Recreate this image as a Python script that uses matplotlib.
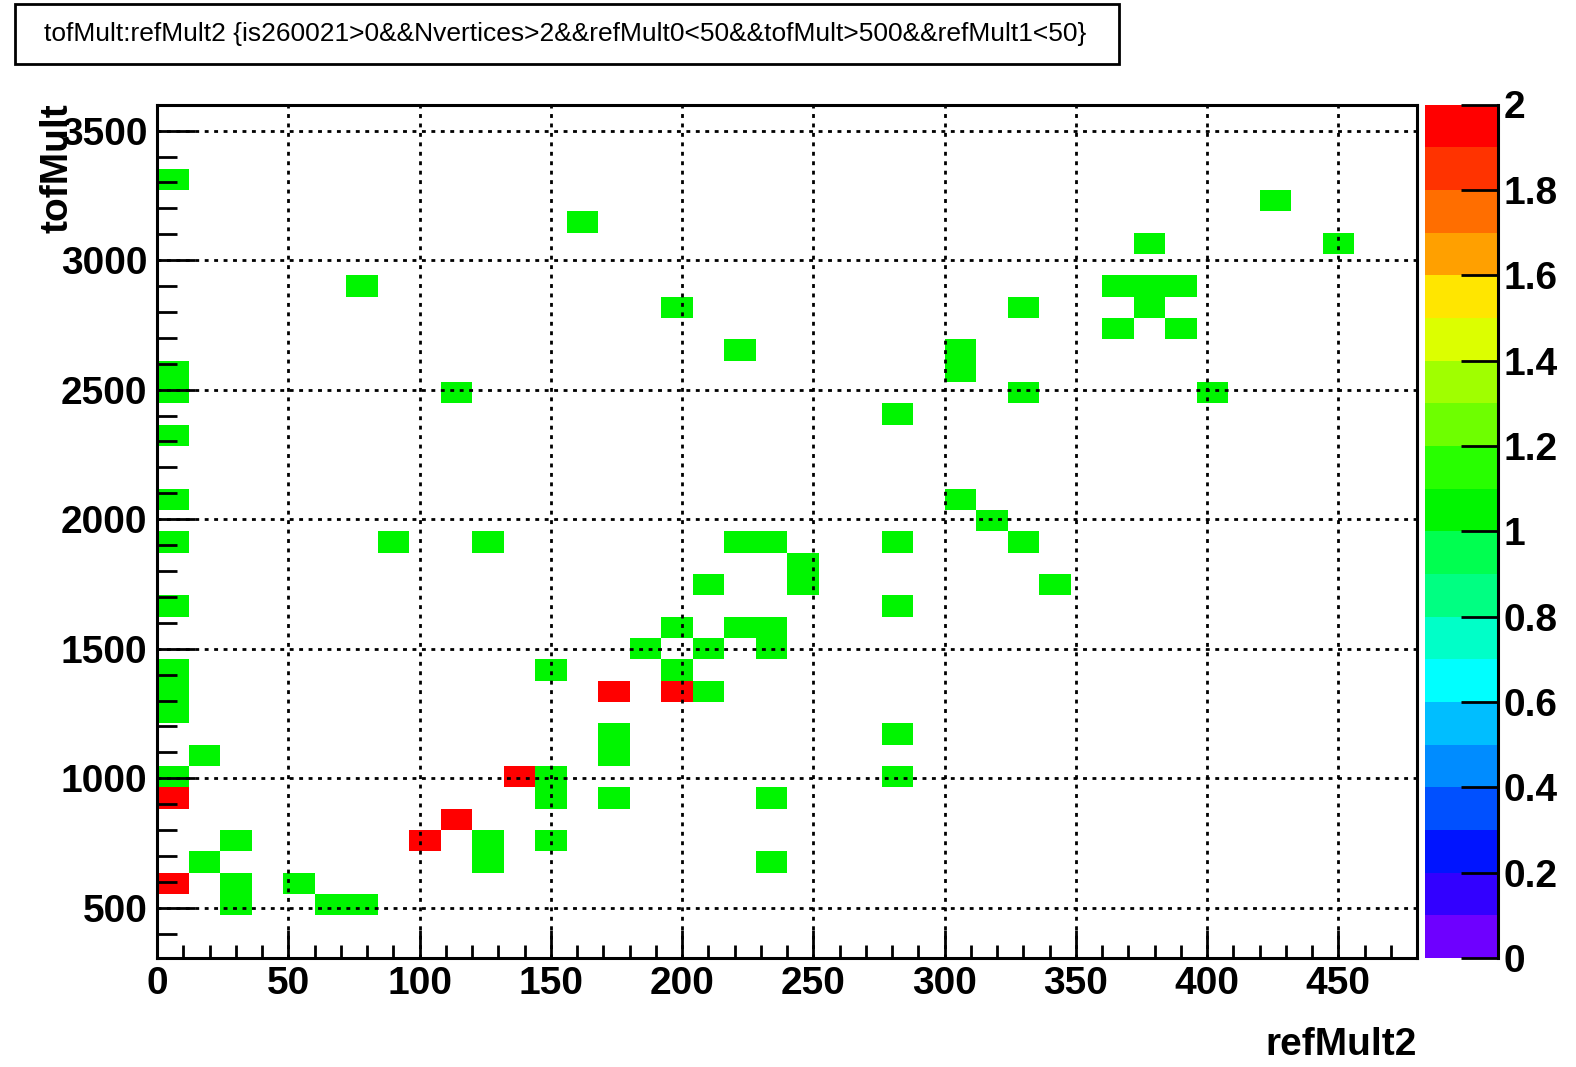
import numpy as np
import matplotlib
matplotlib.use("Agg")
import matplotlib.pyplot as plt
from matplotlib.colors import ListedColormap, Normalize
from matplotlib.patches import Rectangle
from matplotlib.ticker import MultipleLocator

# ---------------- data (cell centres) ----------------
title = "tofMult:refMult2 {is260021>0&&Nvertices>2&&refMult0<50&&tofMult>500&&refMult1<50}"
x_title = "refMult2"
y_title = "tofMult"

ref_mult2 = [6, 162, 426, 378, 450, 78, 366, 378, 390, 198, 330, 378, 366, 390,
             222, 306, 306, 6, 6, 114, 330, 402, 282, 6, 6, 306, 318, 6, 90, 126,
             222, 234, 282, 330, 246, 246, 210, 342, 6, 282, 198, 222, 234, 186,
             210, 234, 198, 150, 6, 6, 6, 210, 174, 174, 282, 18, 6, 150, 150,
             174, 234, 282, 126, 126, 150, 30, 18, 234, 30, 30, 54, 66, 78,
             174, 198, 6, 138, 114, 102, 6]
tof_mult = [3313, 3148, 3230, 3066, 3066, 2901, 2901, 2901, 2901, 2818, 2818, 2818,
            2736, 2736, 2654, 2654, 2571, 2571, 2489, 2489, 2489, 2489, 2407, 2324,
            2077, 2077, 1995, 1912, 1912, 1912, 1912, 1912, 1912, 1912, 1830, 1748,
            1748, 1748, 1665, 1665, 1583, 1583, 1583, 1500, 1500, 1500, 1418, 1418,
            1418, 1336, 1253, 1336, 1171, 1089, 1171, 1089, 1006, 1006, 924, 924,
            924, 1006, 759, 677, 759, 759, 677, 677, 594, 512, 594, 512, 512,
            1336, 1336, 924, 1006, 841, 759, 594]
counts = [1] * 73 + [2] * 7

x_range = (0, 480)
y_range = (306, 3601)
n_bins = 40
z_max = 2.0

palette = ["#6e00ff", "#3200ff", "#0014ff", "#0050ff", "#008cff", "#00beff",
           "#00ffff", "#00ffc8", "#00ff82", "#00ff50", "#00f500", "#28ff00",
           "#6eff00", "#a0ff00", "#dcff00", "#ffe600", "#ffa000", "#ff6e00",
           "#ff3300", "#ff0000"]

# ---------------- figure ----------------
W, H = 1576, 1067
fig = plt.figure(figsize=(W / 100, H / 100), dpi=100)
plt.rcParams['font.family'] = ['Liberation Sans', 'DejaVu Sans']

def fx(px):
    return px / W

def fy(py):
    return 1 - py / H

ax = fig.add_axes([fx(157), fy(958), fx(1417) - fx(157), fy(104.5) - fy(958)])

xedges = np.linspace(x_range[0], x_range[1], n_bins + 1)
yedges = np.linspace(y_range[0], y_range[1], n_bins + 1)
hist, _, _ = np.histogram2d(ref_mult2, tof_mult, bins=[xedges, yedges], weights=counts)
hist = np.ma.masked_where(hist == 0, hist)

cmap = ListedColormap(palette)
norm = Normalize(vmin=0, vmax=z_max)
mesh = ax.pcolormesh(xedges, yedges, hist.T, cmap=cmap, norm=norm, zorder=1)

ax.set_xlim(*x_range)
ax.set_ylim(*y_range)
ax.xaxis.set_major_locator(MultipleLocator(50))
ax.xaxis.set_minor_locator(MultipleLocator(10))
ax.yaxis.set_major_locator(MultipleLocator(500))
ax.yaxis.set_minor_locator(MultipleLocator(100))

ax.grid(True, which='major', color='black', linestyle=(0, (1.4, 2.0)), linewidth=2.0)
ax.tick_params(axis='both', which='both', direction='in', width=2.0, top=False, right=False)
ax.tick_params(axis='x', which='major', length=20, pad=6, labelsize=28)
ax.tick_params(axis='x', which='minor', length=9.5)
ax.tick_params(axis='y', which='major', length=27, pad=7, labelsize=28)
ax.tick_params(axis='y', which='minor', length=14.5)
for lab in ax.get_xticklabels() + ax.get_yticklabels():
    lab.set_fontweight('bold')
for sp in ax.spines.values():
    sp.set_linewidth(2.2)

# colour bar
cax = fig.add_axes([fx(1425), fy(958), fx(1498) - fx(1425), fy(104.5) - fy(958)])
cb = fig.colorbar(mesh, cax=cax, ticks=np.arange(0, 2.01, 0.2))
cb.outline.set_visible(False)
cax.spines['right'].set_visible(True)
cax.spines['right'].set_linewidth(2.2)
cax.tick_params(axis='y', which='both', direction='in', length=27, width=2.0,
                pad=4, labelsize=28, right=True, left=False)
cax.minorticks_off()
cb.set_ticklabels([("%g" % v) for v in np.arange(0, 2.01, 0.2)])
for lab in cax.get_yticklabels():
    lab.set_fontweight('bold')

# axis titles
fig.text(fx(1417), fy(1045), x_title, ha='right', va='center',
         fontsize=28, fontweight='bold')
fig.text(fx(58), fy(103), y_title, ha='center', va='top', rotation=90,
         fontsize=28, fontweight='bold')

# title box
fig.patches.append(Rectangle((fx(15), fy(63.5)), fx(1119) - fx(15), fy(4) - fy(63.5),
                             transform=fig.transFigure, fill=False,
                             edgecolor='black', linewidth=2.0))
fig.text(fx(565), fy(34), title, ha='center', va='center', fontsize=19,
         family=['Liberation Sans Narrow', 'Liberation Sans', 'DejaVu Sans'])

fig.savefig("out.png", dpi=100, facecolor='white')
